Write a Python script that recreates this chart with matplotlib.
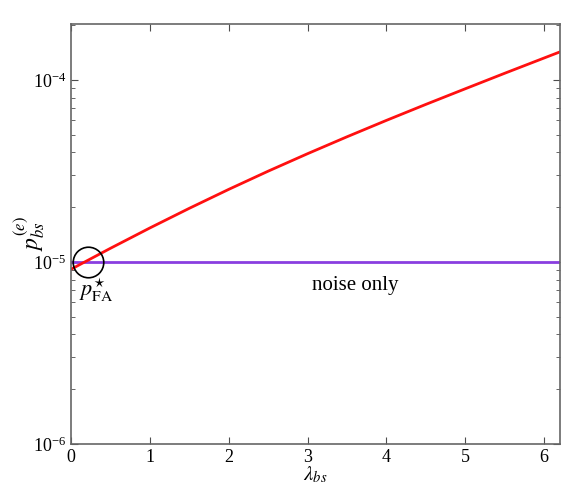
import numpy as np
import matplotlib
matplotlib.use("Agg")
import matplotlib.pyplot as plt

plt.rcParams['font.family'] = ['Liberation Serif', 'DejaVu Serif']
plt.rcParams['mathtext.fontset'] = 'stix'

# data
lam = [0, 0.5, 1, 1.5, 2, 2.5, 3, 3.5, 4, 4.5, 5, 5.5, 6, 6.2]
p_signal = [9.12e-6, 1.189e-5, 1.538e-5, 1.972e-5, 2.506e-5, 3.155e-5, 3.936e-5,
            4.875e-5, 6.0e-5, 7.345e-5, 8.95e-5, 1.089e-4, 1.321e-4, 1.427e-4]
lam_noise = [0, 6.2]
p_noise = [1e-5, 1e-5]
p_fa = 1e-5
lam_fa = 0.21

fig = plt.figure(figsize=(5.62, 4.95), dpi=100)
ax = fig.add_axes([0.1263, 0.103, 0.8701, 0.8485])

ax.plot(lam_noise, p_noise, color='#8a3ee0', lw=2)
ax.plot(lam, p_signal, color='#ff1010', lw=2)
ax.plot([lam_fa], [p_fa], marker='o', markersize=22, markerfacecolor='none',
        markeredgecolor='k', markeredgewidth=1.2)

ax.set_yscale('log')
ax.set_xlim(0, 6.2)
ax.set_ylim(1e-6, 2.03e-4)
ax.set_xticks([0, 1, 2, 3, 4, 5, 6])
ax.set_yticks([1e-6, 1e-5, 1e-4])
ax.set_yticklabels([r'10$^{\mathregular{-6}}$', r'10$^{\mathregular{-5}}$', r'10$^{\mathregular{-4}}$'])
ax.tick_params(which='both', direction='in', top=True, right=True, labelsize=13, colors='0.3', labelcolor='k')
ax.tick_params(which='major', length=5)
ax.tick_params(which='minor', length=3)
for s in ax.spines.values():
    s.set_color('0.4')
    s.set_linewidth(1.2)

ax.text(0.32, 7.0e-6, r'$p^{\star}_{\mathrm{FA}}$', fontsize=16, ha='center', va='center')
ax.text(3.6, 7.45e-6, 'noise only', fontsize=15, ha='center', va='center')

ax.set_xlabel(r'$\lambda_{bs}$', fontsize=15, labelpad=-1)
ax.set_ylabel(r'$p^{(e)}_{bs}$', fontsize=17, labelpad=-10)

fig.savefig('out.png', dpi=100)
